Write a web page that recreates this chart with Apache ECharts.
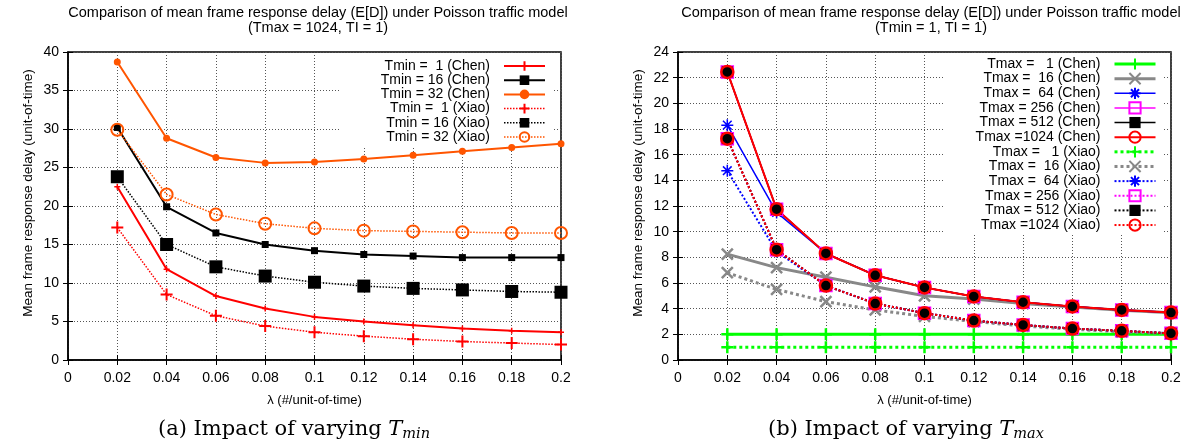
<!DOCTYPE html>
<html><head><meta charset="utf-8">
<script src="https://cdn.jsdelivr.net/npm/echarts@6/dist/echarts.min.js"></script>
<style>html,body{margin:0;padding:0;background:#fff}#c{width:1195px;height:441px}</style>
</head><body><div id="c"></div>
<script>
// ---------- data ----------
const lambdas = [0.02, 0.04, 0.06, 0.08, 0.10, 0.12, 0.14, 0.16, 0.18, 0.20];
const xTicks = { min: 0, max: 0.2, interval: 0.02 };

// (a) Tmax = 1024, Tl = 1
const tmin1Chen  = [22.5, 11.8, 8.3, 6.7, 5.6, 5.0, 4.5, 4.1, 3.8, 3.6];
const tmin16Chen = [30.2, 19.9, 16.5, 15.0, 14.2, 13.7, 13.5, 13.3, 13.3, 13.3];
const tmin32Chen = [38.7, 28.8, 26.3, 25.6, 25.7, 26.1, 26.6, 27.1, 27.6, 28.1];
const tmin1Xiao  = [17.2, 8.5, 5.75, 4.4, 3.6, 3.1, 2.7, 2.4, 2.2, 2.0];
const tmin16Xiao = [23.8, 15.0, 12.1, 10.9, 10.1, 9.6, 9.3, 9.1, 8.9, 8.8];
const tmin32Xiao = [29.9, 21.5, 18.9, 17.7, 17.1, 16.8, 16.7, 16.6, 16.5, 16.5];

// (b) Tmin = 1, Tl = 1
const tmax1Chen    = [2, 2, 2, 2, 2, 2, 2, 2, 2, 2];
const tmax16Chen   = [8.25, 7.2, 6.45, 5.7, 5.0, 4.75, 4.4, 4.12, 3.88, 3.68];
const tmax64Chen   = [18.3, 11.5, 8.3, 6.6, 5.65, 4.95, 4.5, 4.17, 3.9, 3.7];
const tmax256Chen  = [22.45, 11.75, 8.3, 6.6, 5.65, 4.95, 4.5, 4.17, 3.9, 3.7];
const tmax512Chen  = [22.45, 11.75, 8.3, 6.6, 5.65, 4.95, 4.5, 4.17, 3.9, 3.7];
const tmax1024Chen = [22.45, 11.75, 8.3, 6.6, 5.65, 4.95, 4.5, 4.17, 3.9, 3.7];
const tmax1Xiao    = [1, 1, 1, 1, 1, 1, 1, 1, 1, 1];
const tmax16Xiao   = [6.8, 5.5, 4.55, 3.9, 3.4, 3.0, 2.65, 2.4, 2.2, 2.05];
const tmax64Xiao   = [14.75, 8.45, 5.8, 4.4, 3.65, 3.07, 2.73, 2.45, 2.27, 2.08];
const tmax256Xiao  = [17.25, 8.6, 5.8, 4.4, 3.65, 3.07, 2.73, 2.45, 2.27, 2.08];
const tmax512Xiao  = [17.25, 8.6, 5.8, 4.4, 3.65, 3.07, 2.73, 2.45, 2.27, 2.08];
const tmax1024Xiao = [17.25, 8.6, 5.8, 4.4, 3.65, 3.07, 2.73, 2.45, 2.27, 2.08];

const titleA = 'Comparison of mean frame response delay (E[D]) under Poisson traffic model\n(Tmax = 1024, TI = 1)';
const titleB = 'Comparison of mean frame response delay (E[D]) under Poisson traffic model\n(Tmin = 1, TI = 1)';
const xName = 'λ (#/unit-of-time)';
const yName = 'Mean frame response delay (unit-of-time)';

// ---------- styling ----------
const SANS = 'Liberation Sans, Arial, sans-serif';
const PLUS = 'path://M-1,0L1,0M0,-1L0,1';
const CROSS = 'path://M-1,-1L1,1M-1,1L1,-1';
const STAR = 'path://M-1,0L1,0M0,-1L0,1M-0.72,-0.72L0.72,0.72M-0.72,0.72L0.72,-0.72';
const ORANGE = '#ff5500';

function pairs(arr) { return lambdas.map((x, i) => [x, arr[i]]); }

function mk(name, arr, g, color, lw, dash, symbol, size, mode, bw) {
  const itemStyle = mode === 'fill'
    ? { color: color, borderWidth: 0 }
    : { color: 'transparent', borderColor: color, borderWidth: bw };
  return {
    type: 'line', name: name, data: pairs(arr),
    xAxisIndex: g, yAxisIndex: g,
    symbol: symbol, symbolSize: size,
    lineStyle: { color: color, width: lw, type: dash || 'solid' },
    itemStyle: itemStyle,
    emphasis: { disabled: true },
    silent: true, animation: false, z: 2
  };
}

const seriesA = [
  mk('Tmin =  1 (Chen)', tmin1Chen, 0, '#ff0000', 2, null, PLUS, 6, 'stroke', 1.5),
  mk('Tmin = 16 (Chen)', tmin16Chen, 0, '#000000', 2, null, 'rect', 7, 'fill'),
  mk('Tmin = 32 (Chen)', tmin32Chen, 0, ORANGE, 2, null, 'circle', 7, 'fill'),
  mk('Tmin =  1 (Xiao)', tmin1Xiao, 0, '#ff0000', 1.5, [1.5, 1.5], PLUS, 12, 'stroke', 2),
  mk('Tmin = 16 (Xiao)', tmin16Xiao, 0, '#000000', 1.5, [1.5, 1.5], 'rect', 13, 'fill'),
  mk('Tmin = 32 (Xiao)', tmin32Xiao, 0, ORANGE, 1.5, [1.5, 1.5], 'circle', 12, 'stroke', 2)
];
const seriesB = [
  mk('Tmax =   1 (Chen)', tmax1Chen, 1, '#00ff00', 3, null, PLUS, 12, 'stroke', 2.5),
  mk('Tmax =  16 (Chen)', tmax16Chen, 1, '#888888', 3, null, CROSS, 11, 'stroke', 2.5),
  mk('Tmax =  64 (Chen)', tmax64Chen, 1, '#0000ff', 1.5, null, STAR, 12, 'stroke', 1.5),
  mk('Tmax = 256 (Chen)', tmax256Chen, 1, '#ff00ff', 1.5, null, 'rect', 12, 'stroke', 1.5),
  mk('Tmax = 512 (Chen)', tmax512Chen, 1, '#000000', 1.5, null, 'rect', 11, 'fill'),
  mk('Tmax =1024 (Chen)', tmax1024Chen, 1, '#ff0000', 2, null, 'circle', 12, 'stroke', 2.5),
  mk('Tmax =   1 (Xiao)', tmax1Xiao, 1, '#00ff00', 3, [3, 3], PLUS, 12, 'stroke', 2.5),
  mk('Tmax =  16 (Xiao)', tmax16Xiao, 1, '#888888', 3, [3, 3], CROSS, 11, 'stroke', 2.5),
  mk('Tmax =  64 (Xiao)', tmax64Xiao, 1, '#0000ff', 2, [2, 2], STAR, 12, 'stroke', 1.5),
  mk('Tmax = 256 (Xiao)', tmax256Xiao, 1, '#ff00ff', 2, [2, 2], 'rect', 12, 'stroke', 1.5),
  mk('Tmax = 512 (Xiao)', tmax512Xiao, 1, '#000000', 2, [2, 2], 'rect', 11, 'fill'),
  mk('Tmax =1024 (Xiao)', tmax1024Xiao, 1, '#ff0000', 2, [2, 2], 'circle', 12, 'stroke', 2.5)
];

const gridLine = { show: true, lineStyle: { color: '#555', width: 1, type: [1, 2] } };
const tick = { show: true, inside: true, length: 5, lineStyle: { color: '#000', width: 1 } };
const xFmt = v => String(Math.round(v * 100) / 100);

function xMain(g) {
  return {
    type: 'value', gridIndex: g, position: 'bottom', ...xTicks,
    name: xName, nameLocation: 'middle', nameGap: 34,
    nameTextStyle: { fontSize: 13, color: '#000', fontFamily: SANS },
    axisLine: { show: true, lineStyle: { color: '#000', width: 1.5 } },
    axisTick: tick, splitLine: gridLine,
    axisLabel: { fontSize: 14, color: '#000', fontFamily: SANS, margin: 11, formatter: xFmt }
  };
}
function xMirror(g) {
  return {
    type: 'value', gridIndex: g, position: 'top', ...xTicks,
    axisLine: { show: false }, axisTick: tick, splitLine: { show: false },
    axisLabel: { show: false }
  };
}
function yMain(g, max, interval, gap) {
  return {
    type: 'value', gridIndex: g, position: 'left', min: 0, max: max, interval: interval,
    name: yName, nameLocation: 'middle', nameGap: gap, nameRotate: 90,
    nameTextStyle: { fontSize: 13.5, color: '#000', fontFamily: SANS, padding: [0, 0, 0, 26] },
    axisLine: { show: true, lineStyle: { color: '#000', width: 1.5 } },
    axisTick: tick, splitLine: gridLine,
    axisLabel: { fontSize: 14, color: '#000', fontFamily: SANS, margin: 9 }
  };
}
function yMirror(g, max, interval) {
  return {
    type: 'value', gridIndex: g, position: 'right', min: 0, max: max, interval: interval,
    axisLine: { show: false }, axisTick: tick, splitLine: { show: false },
    axisLabel: { show: false }
  };
}

function legend(series, right, top, ih, gap, padLeft) {
  return {
    orient: 'vertical', right: right, top: top, align: 'right', z: 1,
    itemWidth: 41, itemHeight: ih, itemGap: gap,
    backgroundColor: '#fff', padding: [4, 7, 2, padLeft],
    selectedMode: false, inactiveColor: '#000',
    textStyle: { fontSize: 14, lineHeight: 14, color: '#000', fontFamily: SANS, padding: [0, 9, 0, 0] },
    data: series.map(s => ({ name: s.name, lineStyle: { width: s.lineStyle.width } }))
  };
}

const capRich = {
  i: { fontStyle: 'italic', fontSize: 21, fontFamily: 'DejaVu Serif, serif', fill: '#000' },
  s: { fontStyle: 'italic', fontSize: 14.5, fontFamily: 'DejaVu Serif, serif', fill: '#000', padding: [9, 0, 0, 0] }
};
function caption(x, letter, sub) {
  return {
    type: 'text', x: x, y: 430, silent: true,
    style: {
      text: '(' + letter + ') Impact of varying {i|T}{s|' + sub + '}',
      align: 'center', verticalAlign: 'middle',
      fontSize: 21, fontFamily: 'DejaVu Serif, serif', fill: '#000', rich: capRich
    }
  };
}
function title(x, text) {
  return {
    type: 'text', x: x, y: 6, silent: true,
    style: { text: text, align: 'center', verticalAlign: 'top', fontSize: 14.5, lineHeight: 14.5,
             fontFamily: SANS, fill: '#000' }
  };
}

const option = {
  animation: false,
  backgroundColor: '#fff',
  grid: [
    { left: 68, top: 52, width: 493, height: 308, show: true, borderColor: '#000', borderWidth: 1.5, backgroundColor: 'transparent' },
    { left: 678, top: 52, width: 493, height: 308, show: true, borderColor: '#000', borderWidth: 1.5, backgroundColor: 'transparent' }
  ],
  xAxis: [xMain(0), xMain(1), xMirror(0), xMirror(1)],
  yAxis: [yMain(0, 40, 5, 33), yMain(1, 24, 2, 33), yMirror(0, 40, 5), yMirror(1, 24, 2)],
  legend: [
    legend(seriesA, 1195 - 553, 55, 12, 0.2, 41),
    legend(seriesB, 1195 - 1164, 53, 14, 0.64, 32)
  ],
  graphic: [
    title(318, titleA), title(931, titleB),
    caption(294, 'a', 'min'), caption(906, 'b', 'max')
  ],
  series: seriesA.concat(seriesB)
};

const chart = echarts.init(document.getElementById('c'), null, { renderer: 'canvas' });
chart.setOption(option);
</script>
</body></html>
